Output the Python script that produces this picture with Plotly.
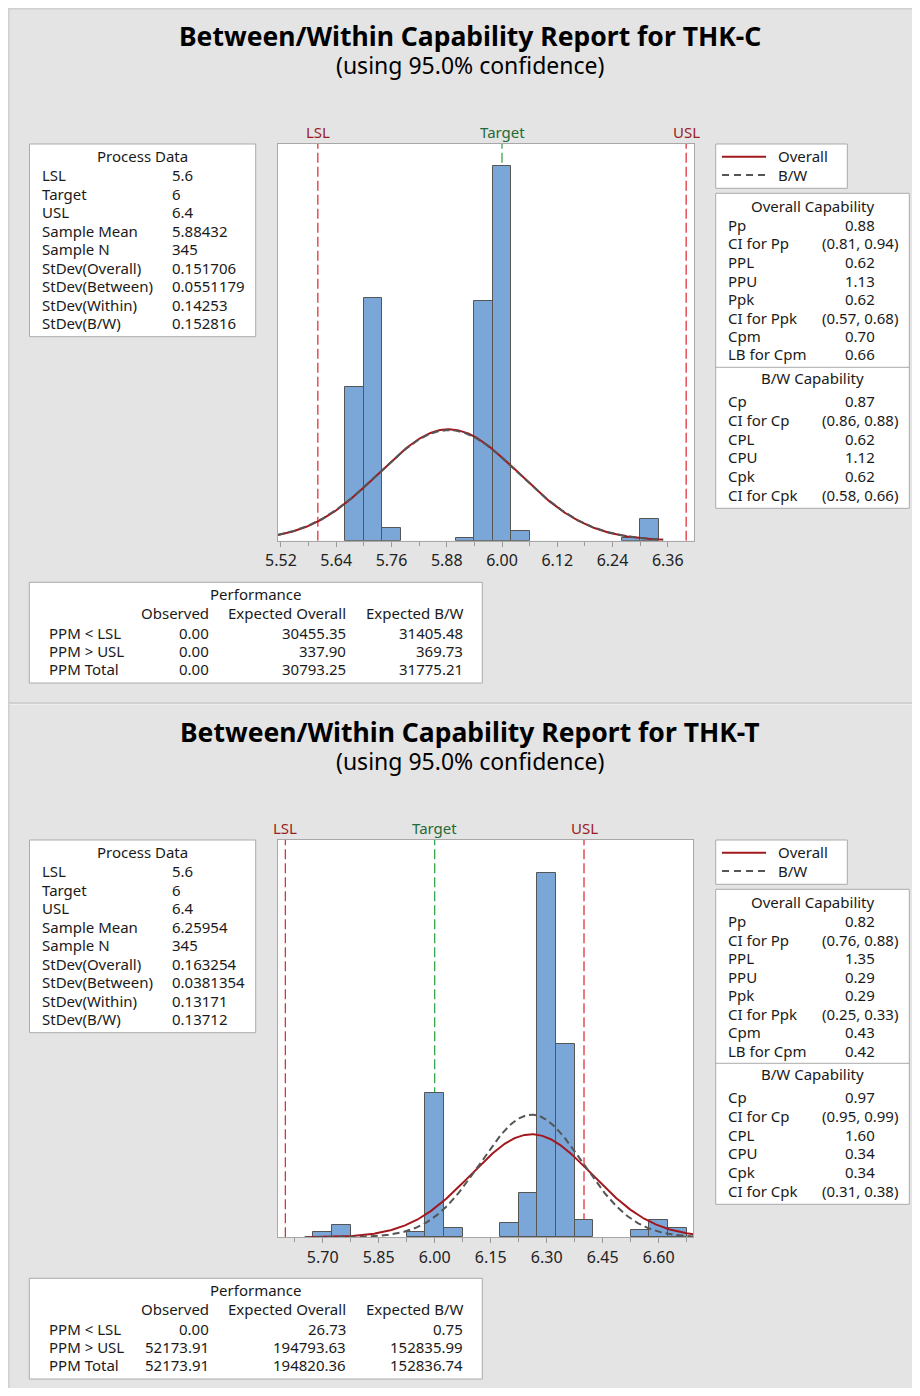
import numpy as np
import plotly.graph_objects as go

# ---------------- data: THK-C ----------------
c_bin_centers = [5.68, 5.72, 5.76, 5.92, 5.96, 6.00, 6.04, 6.28, 6.32]
c_counts = [50, 79, 4, 1, 78, 122, 3, 1, 7]
c_bin_width = 0.04
c_tick_vals = [5.52, 5.64, 5.76, 5.88, 6.00, 6.12, 6.24, 6.36]
c_tick_text = ["5.52", "5.64", "5.76", "5.88", "6.00", "6.12", "6.24", "6.36"]
c_lsl, c_target, c_usl = 5.6, 6.0, 6.4
c_mean = 5.88432
c_n = 345
c_sd_overall = 0.151706
c_sd_bw = 0.152816
c_process_values = ["5.6", "6", "6.4", "5.88432", "345", "0.151706", "0.0551179", "0.14253", "0.152816"]
c_overall_values = ["0.88", "(0.81, 0.94)", "0.62", "1.13", "0.62", "(0.57, 0.68)", "0.70", "0.66"]
c_bw_values = ["0.87", "(0.86, 0.88)", "0.62", "1.12", "0.62", "(0.58, 0.66)"]
c_perf_observed = ["0.00", "0.00", "0.00"]
c_perf_exp_overall = ["30455.35", "337.90", "30793.25"]
c_perf_exp_bw = ["31405.48", "369.73", "31775.21"]

# ---------------- data: THK-T ----------------
t_bin_centers = [5.70, 5.75, 5.95, 6.00, 6.05, 6.20, 6.25, 6.30, 6.35, 6.40, 6.55, 6.60, 6.65]
t_counts = [2, 5, 2, 59, 4, 6, 18, 149, 79, 7, 3, 7, 4]
t_bin_width = 0.05
t_tick_vals = [5.70, 5.85, 6.00, 6.15, 6.30, 6.45, 6.60]
t_tick_text = ["5.70", "5.85", "6.00", "6.15", "6.30", "6.45", "6.60"]
t_lsl, t_target, t_usl = 5.6, 6.0, 6.4
t_mean = 6.25954
t_n = 345
t_sd_overall = 0.163254
t_sd_bw = 0.13712
t_process_values = ["5.6", "6", "6.4", "6.25954", "345", "0.163254", "0.0381354", "0.13171", "0.13712"]
t_overall_values = ["0.82", "(0.76, 0.88)", "1.35", "0.29", "0.29", "(0.25, 0.33)", "0.43", "0.42"]
t_bw_values = ["0.97", "(0.95, 0.99)", "1.60", "0.34", "0.34", "(0.31, 0.38)"]
t_perf_observed = ["0.00", "52173.91", "52173.91"]
t_perf_exp_overall = ["26.73", "194793.63", "194820.36"]
t_perf_exp_bw = ["0.75", "152835.99", "152836.74"]

# ---------------- shared labels ----------------
process_labels = ["LSL", "Target", "USL", "Sample Mean", "Sample N", "StDev(Overall)",
                  "StDev(Between)", "StDev(Within)", "StDev(B/W)"]
overall_labels = ["Pp", "CI for Pp", "PPL", "PPU", "Ppk", "CI for Ppk", "Cpm", "LB for Cpm"]
bw_labels = ["Cp", "CI for Cp", "CPL", "CPU", "Cpk", "CI for Cpk"]
perf_rows = ["PPM < LSL", "PPM > USL", "PPM Total"]
perf_cols = ["Observed", "Expected Overall", "Expected B/W"]
titles = ["Between/Within Capability Report for THK-C", "Between/Within Capability Report for THK-T"]
subtitle = "(using 95.0% confidence)"

# ---------------- layout helpers ----------------
FIG_W, FIG_H = 904, 1380
OFF = 8
DY = 696
FONT = "Noto Sans"
TXT = "#1a1a1a"
BG = "#E4E4E4"
BOX_LINE = "#ABABAB"
BAR_FILL = "#7BA6D8"
BAR_LINE = "#555555"
RED_CURVE = "#A3181C"
GRAY_CURVE = "#555555"
SPEC_RED = "#E0323C"
SPEC_GREEN = "#3AA54F"
LBL_RED = "#9A1C22"
LBL_GREEN = "#1F6B36"


def px(x):
    return (x - OFF) / FIG_W


def py(y):
    return 1 - (y - OFF) / FIG_H


annotations = []
shapes = []


def text(x, y, s, size=15, xanchor="left", color=TXT, xref="paper"):
    annotations.append(dict(
        x=x if xref != "paper" else px(x), y=py(y), xref=xref, yref="paper",
        text=s, showarrow=False, xanchor=xanchor, yanchor="middle", borderpad=0,
        font=dict(family=FONT, size=size, color=color)))


def box(x0, y0, x1, y1):
    shapes.append(dict(type="rect", xref="paper", yref="paper",
                       x0=px(x0), x1=px(x1), y0=py(y1), y1=py(y0),
                       fillcolor="white", line=dict(color=BOX_LINE, width=1), layer="above"))


def hline(x0, x1, y, color, dash="solid", width=1):
    shapes.append(dict(type="line", xref="paper", yref="paper",
                       x0=px(x0), x1=px(x1), y0=py(y), y1=py(y),
                       line=dict(color=color, width=width, dash=dash), layer="above"))


fig = go.Figure()

panels = [
    dict(centers=c_bin_centers, counts=c_counts, bw=c_bin_width, tv=c_tick_vals, tt=c_tick_text,
         lsl=c_lsl, target=c_target, usl=c_usl, mean=c_mean, n=c_n, sdo=c_sd_overall, sdb=c_sd_bw,
         pv=c_process_values, ov=c_overall_values, bwv=c_bw_values,
         perf=[c_perf_observed, c_perf_exp_overall, c_perf_exp_bw],
         xr=[5.5135, 6.417], yr=[0, 129.2], xdom=[278, 694], ydom=[144, 540.7],
         curve=[5.5135, 6.35], minor=0.06),
    dict(centers=t_bin_centers, counts=t_counts, bw=t_bin_width, tv=t_tick_vals, tt=t_tick_text,
         lsl=t_lsl, target=t_target, usl=t_usl, mean=t_mean, n=t_n, sdo=t_sd_overall, sdb=t_sd_bw,
         pv=t_process_values, ov=t_overall_values, bwv=t_bw_values,
         perf=[t_perf_observed, t_perf_exp_overall, t_perf_exp_bw],
         xr=[5.5803, 6.6928], yr=[0, 162.6], xdom=[278, 693.3], ydom=[840 - DY, 1237.3 - DY],
         curve=[5.652, 6.6928], minor=0.075),
]

layout_axes = {}
for i, p in enumerate(panels):
    d = i * DY
    xa = "x" if i == 0 else "x2"
    ya = "y" if i == 0 else "y2"
    xkey = "xaxis" if i == 0 else "xaxis2"
    ykey = "yaxis" if i == 0 else "yaxis2"

    # spec lines (below bars)
    for val, col in [(p["lsl"], SPEC_RED), (p["target"], SPEC_GREEN), (p["usl"], SPEC_RED)]:
        shapes.append(dict(type="line", xref=xa, yref=ya, x0=val, x1=val, y0=p["yr"][0], y1=p["yr"][1],
                           line=dict(color=col, width=1.3, dash="10px,4px"), layer="below"))

    # histogram bars
    fig.add_trace(go.Bar(x=p["centers"], y=p["counts"], width=p["bw"], xaxis=xa, yaxis=ya,
                         marker=dict(color=BAR_FILL, line=dict(color=BAR_LINE, width=1)),
                         showlegend=False, hoverinfo="skip"))

    # fitted normal curves
    xs = np.linspace(p["curve"][0], p["curve"][1], 400)
    scale = p["n"] * p["bw"]
    y_over = scale * np.exp(-0.5 * ((xs - p["mean"]) / p["sdo"]) ** 2) / (p["sdo"] * np.sqrt(2 * np.pi))
    y_bw = scale * np.exp(-0.5 * ((xs - p["mean"]) / p["sdb"]) ** 2) / (p["sdb"] * np.sqrt(2 * np.pi))
    fig.add_trace(go.Scatter(x=xs, y=y_over, mode="lines", xaxis=xa, yaxis=ya,
                             line=dict(color=RED_CURVE, width=2), showlegend=False, hoverinfo="skip"))
    fig.add_trace(go.Scatter(x=xs, y=y_bw, mode="lines", xaxis=xa, yaxis=ya,
                             line=dict(color=GRAY_CURVE, width=2, dash="7px,4px"),
                             showlegend=False, hoverinfo="skip"))

    layout_axes[xkey] = dict(
        domain=[px(p["xdom"][0]), px(p["xdom"][1])], range=p["xr"], anchor=ya,
        tickmode="array", tickvals=p["tv"], ticktext=p["tt"],
        ticks="outside", ticklen=5, tickcolor="#9A9A9A", tickwidth=1,
        minor=dict(ticks="outside", ticklen=4, tickcolor="#9A9A9A", dtick=p["minor"], tick0=p["tv"][0],
                   showgrid=False),
        showline=True, linecolor="#A8A8A8", linewidth=1, mirror=True,
        showgrid=False, zeroline=False, automargin=False,
        tickfont=dict(family=FONT, size=16, color="#222222"), fixedrange=True)
    layout_axes[ykey] = dict(
        domain=[py(p["ydom"][1] + d), py(p["ydom"][0] + d)], range=p["yr"], anchor=xa,
        showticklabels=False, ticks="", showgrid=False, zeroline=False, automargin=False,
        showline=True, linecolor="#A8A8A8", linewidth=1, mirror=True, fixedrange=True)

    # titles
    text(470, 36 + d, "<b>" + titles[i] + "</b>", size=26.5, xanchor="center", color="#000000")
    text(470, 65 + d, subtitle, size=23, xanchor="center", color="#000000")

    # spec labels above the plot
    text(p["lsl"], 132 + d, "LSL", size=15, xanchor="center", color=LBL_RED, xref=xa)
    text(p["target"], 132 + d, "Target", size=15, xanchor="center", color=LBL_GREEN, xref=xa)
    text(p["usl"], 132 + d, "USL", size=15, xanchor="center", color=LBL_RED, xref=xa)

    # Process Data box
    box(29.5, 144 + d, 255.7, 336.7 + d)
    text(142, 156 + d, "Process Data", xanchor="center")
    for k, (lab, val) in enumerate(zip(process_labels, p["pv"])):
        yy = 175 + k * 18.55 + d
        text(41, yy, lab)
        text(171, yy, val)

    # legend box
    box(715.7, 144 + d, 847.3, 188.3 + d)
    hline(722, 766, 156.7 + d, RED_CURVE, width=2)
    hline(722, 766, 175 + d, GRAY_CURVE, dash="7px,5px", width=2)
    text(777, 156 + d, "Overall")
    text(777, 175 + d, "B/W")

    # capability box
    box(715.7, 193.3 + d, 909.3, 508.3 + d)
    hline(715.7, 909.3, 367.3 + d, BOX_LINE)
    text(812.5, 205.7 + d, "Overall Capability", xanchor="center")
    for k, (lab, val) in enumerate(zip(overall_labels, p["ov"])):
        yy = 225 + k * 18.5 + d
        text(727, yy, lab)
        text(859.5, yy, val, xanchor="center")
    text(812.5, 377.7 + d, "B/W Capability", xanchor="center")
    for k, (lab, val) in enumerate(zip(bw_labels, p["bwv"])):
        yy = 401 + k * 18.8 + d
        text(727, yy, lab)
        text(859.5, yy, val, xanchor="center")

    # performance box
    box(29.3, 582.3 + d, 482.3, 683 + d)
    text(255.7, 594 + d, "Performance", xanchor="center")
    col_right = [209.5, 347, 463.5]
    for j, c in enumerate(perf_cols):
        text(col_right[j], 613 + d, c, xanchor="right")
    for r, lab in enumerate(perf_rows):
        yy = 632.5 + r * 18.4 + d
        text(48, yy, lab)
        for j in range(3):
            text(col_right[j], yy, p["perf"][j][r], xanchor="right")

# panel frame lines
shapes.append(dict(type="line", xref="paper", yref="paper", x0=0, x1=1, y0=py(703), y1=py(703),
                   line=dict(color="#CBCBCB", width=1.5), layer="above"))
shapes.append(dict(type="line", xref="paper", yref="paper", x0=0, x1=1, y0=py(704.5), y1=py(704.5),
                   line=dict(color="#EEEEEE", width=1), layer="above"))
shapes.append(dict(type="line", xref="paper", yref="paper", x0=px(8.8), x1=px(8.8), y0=0, y1=1,
                   line=dict(color="#CFCFCF", width=1.5), layer="above"))
shapes.append(dict(type="line", xref="paper", yref="paper", x0=0, x1=1, y0=py(8.8), y1=py(8.8),
                   line=dict(color="#CFCFCF", width=1.5), layer="above"))

fig.update_layout(
    width=FIG_W, height=FIG_H, autosize=False,
    margin=dict(l=0, r=0, t=0, b=0, pad=0, autoexpand=False),
    paper_bgcolor=BG, plot_bgcolor="white",
    showlegend=False, bargap=0,
    annotations=annotations, shapes=shapes,
    **layout_axes,
)

fig.write_html("out.html", config={"displayModeBar": False})
